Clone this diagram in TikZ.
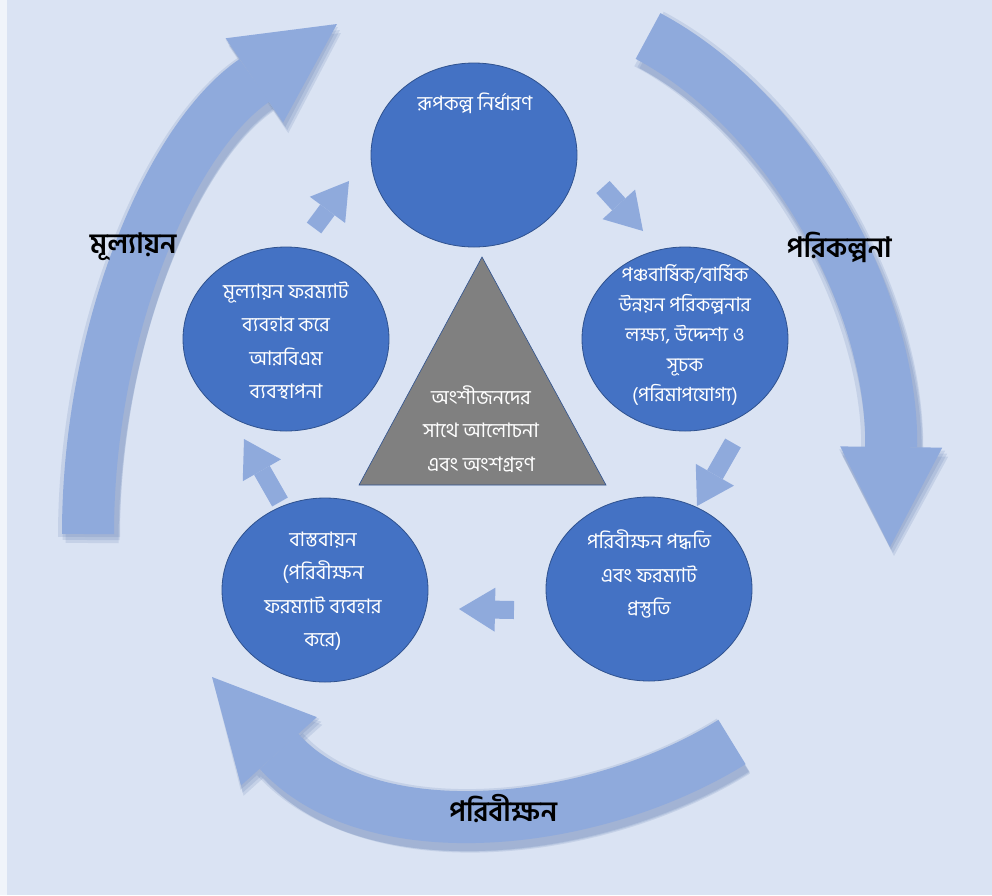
\documentclass[tikz,border=0pt]{standalone}
\usepackage{fontspec}
\newfontfamily\bn[Script=Bengali]{Hind Siliguri}
\usepackage{xcolor}
\usetikzlibrary{shapes.geometric,arrows.meta}
\definecolor{bgblue}{HTML}{DAE3F3}
\definecolor{circblue}{HTML}{4472C4}
\definecolor{circedge}{HTML}{2F528F}
\definecolor{arrblue}{HTML}{8FAADC}
\definecolor{shadeblue}{HTML}{2F5597}
\definecolor{trigray}{HTML}{808080}

\begin{document}
\begin{tikzpicture}[x=1pt,y=-1pt,
  circ/.style={ellipse,draw=circedge,line width=0.8pt,fill=circblue,minimum width=206pt,minimum height=184pt,inner sep=0pt},
  txt/.style={align=center,text=white,font=\bn\fontsize{20}{33.5}\selectfont,inner sep=0pt},
  cyc/.style={font=\bn\bfseries\fontsize{28}{30}\selectfont,inner sep=0pt},
  small/.style={draw=arrblue,line width=18pt,-{Triangle[width=44pt,length=36pt,line width=0pt]}},
  big/.style={draw=arrblue,line width=52pt,-{Triangle[width=102pt,length=100pt,line width=0pt]}},
  bigshade/.style n args={3}{draw=shadeblue,opacity=0.12,line width=#1pt,-{Triangle[width=106pt,length=100pt,line width=0pt]},transform canvas={shift={(#2pt,#3pt)}}}]
\fill[bgblue] (0,0) rectangle (992,895);
\fill[white!60!bgblue] (0,0) rectangle (7,895);
\useasboundingbox (0,0) rectangle (992,895);
\coordinate (l0) at (88,534); \coordinate (l1) at (88,330); \coordinate (l2) at (170,138); \coordinate (l3) at (337,24);
\coordinate (r0) at (648,36); \coordinate (r1) at (789,111); \coordinate (r2) at (893,300); \coordinate (r3) at (890,547);
\coordinate (b0) at (732,742); \coordinate (b1) at (590,830); \coordinate (b2) at (368,850); \coordinate (b3) at (212,677);
\foreach \w/\dx/\dy in {62/1/-3,57/3/-6,53/4/-9} {
  \draw[bigshade={\w}{\dx}{\dy}] (l0) .. controls (l1) and (l2) .. (l3);
  \draw[bigshade={\w}{\dx}{\dy}] (r0) .. controls (r1) and (r2) .. (r3);
  \draw[bigshade={\w}{\dx}{\dy}] (b0) .. controls (b1) and (b2) .. (b3);
}
\draw[big] (l0) .. controls (l1) and (l2) .. (l3);
\draw[big] (r0) .. controls (r1) and (r2) .. (r3);
\draw[big] (b0) .. controls (b1) and (b2) .. (b3);
\node[cyc] (evallab) at (133,247) {মূল্যায়ন};
\node[cyc] (planlab) at (839,247) {পরিকল্পনা};
\node[cyc] (monlab) at (503,809) {পরিবীক্ষন};
\node[circ] (vision) at (474,155) {};
\node[circ] (plan) at (685,339) {};
\node[circ] (method) at (649,589) {};
\node[circ] (impl) at (325,590) {};
\node[circ] (rbm) at (286,339) {};
\coordinate (s1) at (603,187); \coordinate (e1) at (643,231);
\coordinate (s2) at (733,443); \coordinate (e2) at (697,506);
\coordinate (s3) at (514,610); \coordinate (e3) at (459,609);
\coordinate (s4) at (280,502); \coordinate (e4) at (244,439);
\coordinate (s5) at (314,228); \coordinate (e5) at (349,181);
\foreach \i in {1,...,5} \draw[small] (s\i) -- (e\i);
\coordinate (tA) at (482,257); \coordinate (tB) at (606,485); \coordinate (tC) at (359,485);
\draw[fill=trigray,draw=circedge,line width=0.6pt] (tA) -- (tB) -- (tC) -- cycle;
\node[txt] (talk) at (481,429) {অংশীজনদের\\সাথে আলোচনা\\এবং অংশগ্রহণ};
\node[txt] (visiontxt) at (475,103) {রূপকল্প নির্ধারণ};
\node[txt,font=\bn\fontsize{19.5}{30}\selectfont] (plantxt) at (685,335) {পঞ্চবার্ষিক/বার্ষিক\\উন্নয়ন পরিকল্পনার\\লক্ষ্য, উদ্দেশ্য ও\\সূচক\\(পরিমাপযোগ্য)};
\node[txt] (methodtxt) at (649,574) {পরিবীক্ষন পদ্ধতি\\এবং ফরম্যাট\\প্রস্তুতি};
\node[txt] (impltxt) at (323,591) {বাস্তবায়ন\\(পরিবীক্ষন\\ফরম্যাট ব্যবহার\\করে)};
\node[txt] (rbmtxt) at (286,341) {মূল্যায়ন ফরম্যাট\\ব্যবহার করে\\আরবিএম\\ব্যবস্থাপনা};
\end{tikzpicture}
\end{document}
